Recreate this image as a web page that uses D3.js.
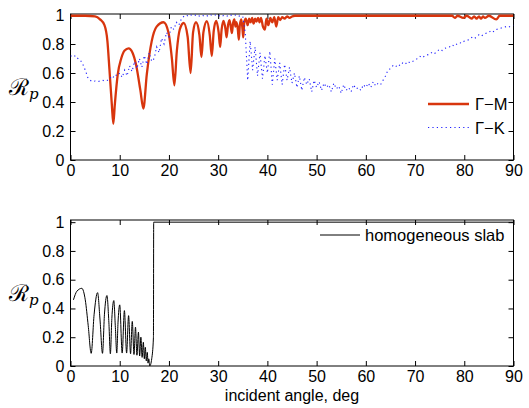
<!DOCTYPE html>
<html>
<head>
<meta charset="utf-8">
<script src="https://cdn.jsdelivr.net/npm/d3@7"></script>
<style>
  html, body { margin: 0; padding: 0; background: #fff; }
  svg { display: block; font-family: "Liberation Sans", Arial, sans-serif; }
  .tick text { font-size: 16px; fill: #000; }
  .tick line { stroke: #000; }
</style>
</head>
<body>
<svg id="chart" width="529" height="408"></svg>
<script>
// --- data ---
const Y_TICKS = [0, 0.2, 0.4, 0.6, 0.8, 1];
const X_TICKS = [0, 10, 20, 30, 40, 50, 60, 70, 80, 90];

// Γ−M (red): [angle deg, Rp] at turning points and shoulders
const GM = [
  [0, 0.995], [3, 0.995], [5, 0.99], [6, 0.97], [6.9, 0.93], [7.5, 0.82], [7.9, 0.63], [8.4, 0.38], [8.7, 0.25],
  [9.0, 0.38], [9.6, 0.59], [10.3, 0.70], [11, 0.755], [11.8, 0.77], [12.6, 0.74], [13.3, 0.66], [14.2, 0.48],
  [14.8, 0.355], [15.5, 0.59], [16.5, 0.82], [17.5, 0.92], [18.9, 0.95], [19.9, 0.88], [20.6, 0.7], [21.1, 0.515],
  [21.6, 0.75], [22.2, 0.9], [23, 0.945], [23.8, 0.85], [24.4, 0.60], [24.9, 0.88], [25.5, 0.95], [26.2, 0.86],
  [26.6, 0.71], [27.0, 0.88], [27.7, 0.957], [28.3, 0.86], [28.7, 0.717], [29.1, 0.89], [29.6, 0.96], [30.1, 0.88],
  [30.4, 0.78], [30.7, 0.9], [31.1, 0.96], [31.5, 0.9], [31.7, 0.846], [32.0, 0.93], [32.3, 0.965], [32.6, 0.91],
  [32.8, 0.876], [33.0, 0.94], [33.3, 0.97], [33.5, 0.92], [33.7, 0.95], [34.0, 0.9], [34.2, 0.83], [34.4, 0.93],
  [34.7, 0.97], [34.95, 0.9], [35.1, 0.846], [35.3, 0.95], [35.6, 0.975], [36.0, 0.93], [36.3, 0.975], [36.6, 0.95],
  [36.9, 0.98], [37.2, 0.94], [37.5, 0.975], [37.8, 0.955], [38.1, 0.98], [38.4, 0.95], [38.7, 0.98], [39.1, 0.92],
  [39.5, 0.90], [39.8, 0.975], [40.2, 0.93], [40.6, 0.98], [41.0, 0.95], [41.4, 0.985], [41.8, 0.92], [42.2, 0.985],
  [42.6, 0.965], [43.0, 0.985], [43.5, 0.975], [44.0, 0.99], [44.5, 0.98], [45.0, 0.99], [45.6, 0.995],
  [77.5, 0.995], [78.1, 0.98], [78.6, 0.995], [79.8, 0.98], [80.5, 0.995], [81.5, 0.975], [82.0, 0.99], [82.5, 0.975],
  [83.0, 0.99], [83.4, 0.975], [83.8, 0.99], [84.2, 0.98], [85, 0.995], [86.5, 0.97], [87.2, 0.995], [90, 0.995]
];

// Γ−K (blue dotted): Rp sampled every 0.5 deg from 0 to 90
const GK_STEP = 0.5;
const GK = [
  0.72, 0.71, 0.72, 0.70, 0.69, 0.66, 0.62,
  0.57, 0.55, 0.54, 0.545, 0.54, 0.545, 0.55, 0.545, 0.55, 0.57, 0.56, 0.59, 0.58,
  0.60, 0.57, 0.62, 0.58, 0.65, 0.61, 0.68, 0.63, 0.70, 0.64, 0.72, 0.66, 0.74, 0.68,
  0.70, 0.78, 0.74, 0.84, 0.80, 0.88, 0.85, 0.92, 0.90, 0.95, 0.93, 0.97,
  0.99, 1.0, 0.99, 1.0, 0.995, 1.0, 0.99, 1.0, 0.995, 1.0, 0.99, 1.0, 0.995, 1.0, 0.99, 1.0, 0.995, 1.0, 0.99, 1.0, 0.995, 1.0, 0.99, 0.995, 0.99,
  0.88, 0.55, 0.82, 0.62, 0.78, 0.58, 0.74, 0.56, 0.72, 0.60, 0.75, 0.52, 0.70, 0.55, 0.67, 0.52, 0.66, 0.55, 0.64, 0.53,
  0.60, 0.50, 0.58, 0.48, 0.57, 0.52, 0.56, 0.47, 0.55, 0.50, 0.54, 0.48, 0.53, 0.50,
  0.52, 0.47, 0.53, 0.49, 0.51, 0.46, 0.52, 0.48, 0.50, 0.47, 0.52, 0.49, 0.50, 0.48, 0.52, 0.50, 0.53, 0.50, 0.54, 0.51, 0.53, 0.52, 0.55,
  0.58, 0.62, 0.63, 0.65, 0.64, 0.66, 0.65, 0.67, 0.66, 0.68, 0.67, 0.68, 0.69,
  0.70, 0.715, 0.705, 0.72, 0.725, 0.73, 0.745, 0.735, 0.75, 0.765, 0.755, 0.77, 0.775, 0.78, 0.795, 0.785, 0.80, 0.81, 0.805,
  0.82, 0.825, 0.83, 0.845, 0.835, 0.85, 0.865, 0.855, 0.87, 0.875, 0.88, 0.895, 0.885, 0.90, 0.905, 0.91, 0.915, 0.92, 0.915, 0.925, 0.93
];

// homogeneous slab (black)
const SLAB = [
  [0.6, 0.46], [1.3, 0.52], [2.3, 0.54], [3.0, 0.46], [3.6, 0.28], [4.2, 0.088], [4.8, 0.36], [5.5, 0.51],
  [6.0, 0.32], [6.5, 0.088], [6.9, 0.36], [7.4, 0.49], [7.8, 0.3], [8.1, 0.085], [8.4, 0.33], [8.8, 0.455],
  [9.1, 0.28], [9.4, 0.09], [9.65, 0.3], [10.0, 0.425], [10.5, 0.09], [10.95, 0.385], [11.4, 0.09], [11.8, 0.35],
  [12.2, 0.085], [12.55, 0.31], [12.9, 0.08], [13.2, 0.27], [13.5, 0.075], [13.8, 0.235], [14.05, 0.07], [14.3, 0.2],
  [14.55, 0.06], [14.8, 0.165], [15.0, 0.05], [15.2, 0.13], [15.4, 0.035], [15.6, 0.095], [15.75, 0.02], [15.9, 0.05],
  [16.1, 0.0], [16.5, 0.05], [16.85, 0.2], [16.9, 1.0], [90, 1.0]
];

// --- layout ---
const svg = d3.select("#chart");
const X0 = 70.5, X1 = 513.5;
const x = d3.scaleLinear().domain([0, 90]).range([X0, X1]);

function panel(top, bottom, yMax, id) {
  const y = d3.scaleLinear().domain([0, yMax]).range([bottom, top]);
  const g = svg.append("g");
  g.append("clipPath").attr("id", id).append("rect")
    .attr("x", X0).attr("y", top).attr("width", X1 - X0).attr("height", bottom - top);

  const fmt = (d) => d === 0 || d === 1 ? String(d) : d3.format(".1f")(d);
  const ax = (gen, tr, labels, pad) => {
    const a = g.append("g").attr("transform", tr).call(gen.tickSizeInner(-5).tickSizeOuter(0).tickPadding(pad));
    a.select(".domain").remove();
    if (!labels) a.selectAll("text").remove();
    return a;
  };
  ax(d3.axisBottom(x).tickValues(X_TICKS), `translate(0,${bottom})`, true, 5).selectAll("text").attr("dy", "0.71em");
  ax(d3.axisTop(x).tickValues(X_TICKS), `translate(0,${top})`, false, 5);
  ax(d3.axisLeft(y).tickValues(Y_TICKS).tickFormat(fmt), `translate(${X0},0)`, true, 6);
  ax(d3.axisRight(y).tickValues(Y_TICKS), `translate(${X1},0)`, false, 6);
  g.append("rect").attr("x", X0).attr("y", top).attr("width", X1 - X0).attr("height", bottom - top)
    .attr("fill", "none").attr("stroke", "#000").attr("stroke-width", 1);

  // y label: calligraphic R with subscript p
  const mid = (top + bottom) / 2;
  const lab = g.append("text").attr("x", 9).attr("y", mid + 8).attr("font-family", "'DejaVu Serif', serif");
  lab.append("tspan").attr("font-size", "23px").text("ℛ");
  lab.append("tspan").attr("font-size", "15px").attr("font-style", "italic").attr("dy", "4").text("p");
  return { g, y };
}

// top panel
const P1 = panel(14, 160, 1.007, "clip1");
const line1 = d3.line().x(d => x(d[0])).y(d => P1.y(d[1])).curve(d3.curveMonotoneX);
P1.g.append("path").datum(GM).attr("clip-path", "url(#clip1)")
  .attr("d", line1).attr("fill", "none").attr("stroke", "#d8350d").attr("stroke-width", 2.3);
P1.g.append("path").datum(GK.map((v, i) => [i * GK_STEP, v])).attr("clip-path", "url(#clip1)")
  .attr("d", d3.line().x(d => x(d[0])).y(d => P1.y(d[1])))
  .attr("fill", "none").attr("stroke", "#2020ff").attr("stroke-width", 1.1).attr("stroke-dasharray", "1.2,3.2");

// top legend
const lg1 = P1.g.append("g");
lg1.append("line").attr("x1", 428).attr("x2", 469).attr("y1", 104).attr("y2", 104)
  .attr("stroke", "#d8350d").attr("stroke-width", 2.3);
lg1.append("line").attr("x1", 428).attr("x2", 469).attr("y1", 127.5).attr("y2", 127.5)
  .attr("stroke", "#2020ff").attr("stroke-width", 1.1).attr("stroke-dasharray", "1.2,3.2");
lg1.append("text").attr("x", 475).attr("y", 110).attr("font-size", "16.5px").text("Γ−M");
lg1.append("text").attr("x", 475).attr("y", 133.5).attr("font-size", "16.5px").text("Γ−K");

// bottom panel
const P2 = panel(220, 366, 1.015, "clip2");
P2.g.append("path").datum(SLAB).attr("clip-path", "url(#clip2)")
  .attr("d", d3.line().x(d => x(d[0])).y(d => P2.y(d[1])).curve(d3.curveMonotoneX))
  .attr("fill", "none").attr("stroke", "#000").attr("stroke-width", 1);

const lg2 = P2.g.append("g");
lg2.append("line").attr("x1", 320).attr("x2", 360).attr("y1", 235).attr("y2", 235)
  .attr("stroke", "#000").attr("stroke-width", 1);
lg2.append("text").attr("x", 365).attr("y", 241).attr("font-size", "16.5px").text("homogeneous slab");

svg.append("text").attr("x", (X0 + X1) / 2).attr("y", 400.5).attr("text-anchor", "middle")
  .attr("font-size", "16px").text("incident angle, deg");
</script>
</body>
</html>
